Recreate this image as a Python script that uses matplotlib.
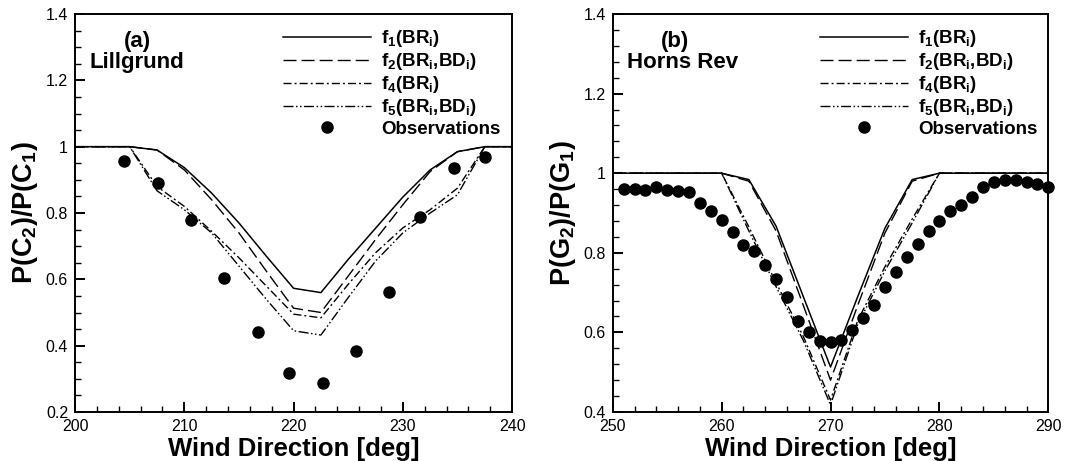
import numpy as np
import matplotlib
matplotlib.use('Agg')
import matplotlib.pyplot as plt
from matplotlib.ticker import MultipleLocator, FuncFormatter

plt.rcParams['font.family'] = ['Liberation Sans', 'DejaVu Sans']
plt.rcParams['mathtext.fontset'] = 'custom'
plt.rcParams['mathtext.rm'] = 'Liberation Sans'
plt.rcParams['mathtext.bf'] = 'Liberation Sans:bold'
plt.rcParams['mathtext.it'] = 'Liberation Sans:italic'
plt.rcParams['mathtext.default'] = 'bf'
plt.rcParams['lines.scale_dashes'] = False

# (a) Lillgrund
dir_a = [200, 205, 207.5, 210, 212.5, 215, 217.5, 220, 222.5, 225, 227.5, 230, 232.5, 235, 237.5, 240]
f1_a = [1, 1, 0.99, 0.937, 0.86, 0.77, 0.67, 0.573, 0.56, 0.66, 0.754, 0.848, 0.93, 0.985, 1, 1]
f2_a = [1, 1, 0.99, 0.93, 0.84, 0.74, 0.625, 0.513, 0.50, 0.61, 0.72, 0.825, 0.925, 0.985, 1, 1]
f4_a = [1, 1, 0.88, 0.82, 0.745, 0.665, 0.58, 0.495, 0.484, 0.585, 0.68, 0.755, 0.81, 0.875, 1, 1]
f5_a = [1, 1, 0.867, 0.81, 0.74, 0.64, 0.54, 0.445, 0.432, 0.545, 0.655, 0.74, 0.80, 0.855, 1, 1]
obs_dir_a = [204.5, 207.6, 210.6, 213.6, 216.7, 219.6, 222.7, 225.7, 228.7, 231.6, 234.7, 237.5]
obs_a = [0.957, 0.889, 0.78, 0.604, 0.44, 0.318, 0.287, 0.385, 0.561, 0.787, 0.935, 0.97]

# (b) Horns Rev
dir_b = [250, 260, 262.5, 265, 267.5, 270, 272.5, 275, 277.5, 280, 290]
f1_b = [1, 1, 0.984, 0.867, 0.69, 0.513, 0.69, 0.862, 0.984, 1, 1]
f2_b = [1, 1, 0.98, 0.855, 0.668, 0.48, 0.668, 0.85, 0.98, 1, 1]
f4_b = [1, 1, 0.865, 0.725, 0.59, 0.43, 0.63, 0.765, 0.885, 1, 1]
f5_b = [1, 1, 0.855, 0.715, 0.58, 0.418, 0.62, 0.755, 0.875, 1, 1]
obs_dir_b = list(range(251, 291))
obs_b = [0.960, 0.961, 0.959, 0.965, 0.959, 0.955, 0.953, 0.925, 0.906, 0.883,
         0.852, 0.820, 0.805, 0.769, 0.735, 0.690, 0.628, 0.601, 0.579, 0.575,
         0.581, 0.607, 0.637, 0.669, 0.715, 0.752, 0.789, 0.822, 0.856, 0.881,
         0.905, 0.920, 0.940, 0.966, 0.977, 0.983, 0.983, 0.977, 0.973, 0.965]

labels = [r'$f_1(BR_i)$', r'$f_2(BR_i{,}BD_i)$', r'$f_4(BR_i)$', r'$f_5(BR_i{,}BD_i)$', 'Observations']
styles = ['-', (0, (9.4, 3.6)), (0, (5.8, 2.2, 1.4, 2.2)), (0, (7.2, 1.8, 1.1, 1.8, 1.1, 1.8))]

fig = plt.figure(figsize=(10.66, 4.61), dpi=100)
ax1 = fig.add_axes([0.0704, 0.1063, 0.41, 0.8633])
ax2 = fig.add_axes([0.5748, 0.1063, 0.4086, 0.8633])


def draw(ax, d, curves, od, obs, xlim, ylim, yminor, tag, name, ylab):
    handles = []
    for c, ls in zip(curves, styles):
        h, = ax.plot(d, c, color='k', lw=1.1 if ls == '-' else 1.0, linestyle=ls)
        handles.append(h)
    h, = ax.plot(od, obs, 'o', color='k', ms=8, clip_on=False)
    handles.append(h)
    ax.set_xlim(*xlim)
    ax.set_ylim(*ylim)
    ax.xaxis.set_major_locator(MultipleLocator(10))
    ax.xaxis.set_minor_locator(MultipleLocator(2))
    ax.yaxis.set_major_locator(MultipleLocator(0.2))
    ax.yaxis.set_minor_locator(MultipleLocator(yminor))
    ax.yaxis.set_major_formatter(FuncFormatter(lambda v, p: '%g' % round(v, 2)))
    ax.tick_params(which='both', direction='in', top=False, right=False, labelsize=11.5, pad=5)
    ax.tick_params(which='major', length=7, width=1.4)
    ax.tick_params(which='minor', length=4, width=1.0)
    for s in ax.spines.values():
        s.set_linewidth(1.4)
    ax.set_xlabel('Wind Direction [deg]', fontsize=18.5, fontweight='bold', labelpad=2)
    ax.set_ylabel(ylab, fontsize=19.5, labelpad=4)
    ax.text(0.142, 0.93, tag, transform=ax.transAxes, fontsize=16, fontweight='bold',
            ha='center', va='center')
    ax.text(0.033, 0.878, name, transform=ax.transAxes, fontsize=16, fontweight='bold',
            ha='left', va='center')
    leg = ax.legend(handles, labels, loc='upper left', bbox_to_anchor=(0.455, 0.988),
                    frameon=False, borderpad=0, fontsize=13.5, handlelength=4.7,
                    handletextpad=0.5, labelspacing=0.11, numpoints=1)
    for t in leg.get_texts():
        t.set_fontweight('bold')


draw(ax1, dir_a, [f1_a, f2_a, f4_a, f5_a], obs_dir_a, obs_a, (200, 240), (0.2, 1.4), 0.05,
     '(a)', 'Lillgrund', r'$P(C_2)/P(C_1)$')
draw(ax2, dir_b, [f1_b, f2_b, f4_b, f5_b], obs_dir_b, obs_b, (250, 290), (0.4, 1.4), 0.04,
     '(b)', 'Horns Rev', r'$P(G_2)/P(G_1)$')

fig.savefig('out.png', dpi=100)
